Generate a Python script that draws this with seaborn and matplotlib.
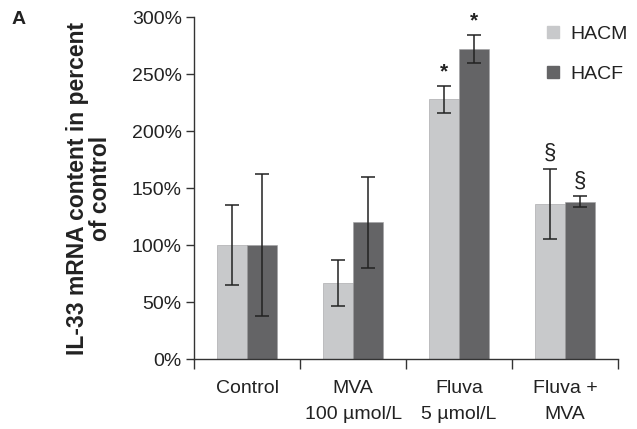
import seaborn as sns
import numpy as np
import pandas as pd
import matplotlib.pyplot as plt
from matplotlib.patches import Patch
from matplotlib.ticker import PercentFormatter

sns.set_style("ticks")
plt.rcParams['font.family'] = ['Liberation Sans', 'DejaVu Sans']

# data (percent of control)
groups = ["Control", "MVA\n100 \u00b5mol/L", "Fluva\n5 \u00b5mol/L", "Fluva +\nMVA"]
hacm = [100, 67, 228, 136]
hacm_err = [35, 20, 12, 31]
hacf = [100, 120, 272, 138]
hacf_err = [62, 40, 12, 5]
hacm_marks = ["", "", "*", "\u00a7"]
hacf_marks = ["", "", "*", "\u00a7"]

df = pd.DataFrame({
    "group": groups * 2,
    "cell": ["HACM"] * 4 + ["HACF"] * 4,
    "value": hacm + hacf,
})
colors = {"HACM": "#c8c9cb", "HACF": "#646466"}

fig = plt.figure(figsize=(6.37, 4.29), dpi=100)
ax = fig.add_axes([0.305, 0.163, 0.665, 0.797])

sns.barplot(data=df, x="group", y="value", hue="cell", palette=colors,
            width=0.57, errorbar=None, ax=ax, legend=False, saturation=1,
            edgecolor="#a0a0a2", linewidth=0.4)

# error bars + significance marks
errs = hacm_err + hacf_err
marks = hacm_marks + hacf_marks
vals = hacm + hacf
for bar, v, e, m in zip(ax.patches, vals, errs, marks):
    xc = bar.get_x() + bar.get_width() / 2
    ax.errorbar(xc, v, yerr=e, color="#222222", capsize=5, lw=1.1, capthick=1.1)
    if m == "*":
        ax.text(xc, v + e + 4, m, ha="center", va="bottom", fontsize=15,
                fontweight="bold", color="#222222")
    elif m:
        ax.text(xc, v + e + 4, m, ha="center", va="bottom", fontsize=16,
                color="#222222")

ax.set_ylim(0, 300)
ax.set_xlim(-0.5, 3.5)
ax.set_yticks(np.arange(0, 301, 50))
ax.yaxis.set_major_formatter(PercentFormatter(decimals=0))
ax.tick_params(axis="y", labelsize=14, length=6, width=1, color="#333333", pad=3,
               labelcolor="#222222")
ax.tick_params(axis="x", which="major", length=0, labelsize=14, pad=15,
               labelcolor="#222222")
ax.set_xticks(np.arange(-0.5, 3.6, 1), minor=True)
ax.tick_params(axis="x", which="minor", length=7, width=1, color="#333333")
plt.setp(ax.get_xticklabels(), linespacing=1.7)

ax.set_xlabel("")
ax.set_ylabel("IL-33 mRNA content in percent\nof control", fontsize=16.5,
              fontweight="bold", labelpad=14, linespacing=1.0, color="#222222")
sns.despine(ax=ax)
for s in ["left", "bottom"]:
    ax.spines[s].set_color("#333333")
    ax.spines[s].set_linewidth(1)

handles = [Patch(color=colors[k], label=k) for k in ["HACM", "HACF"]]
ax.legend(handles=handles, loc="upper right", bbox_to_anchor=(1.065, 1.025),
          frameon=False, fontsize=14, handlelength=0.6, handleheight=0.6,
          labelspacing=1.15, handletextpad=0.6, labelcolor="#222222")

fig.text(0.018, 0.945, "A", fontsize=14, fontweight="bold", color="#222222")

fig.savefig("out.png", dpi=100)
